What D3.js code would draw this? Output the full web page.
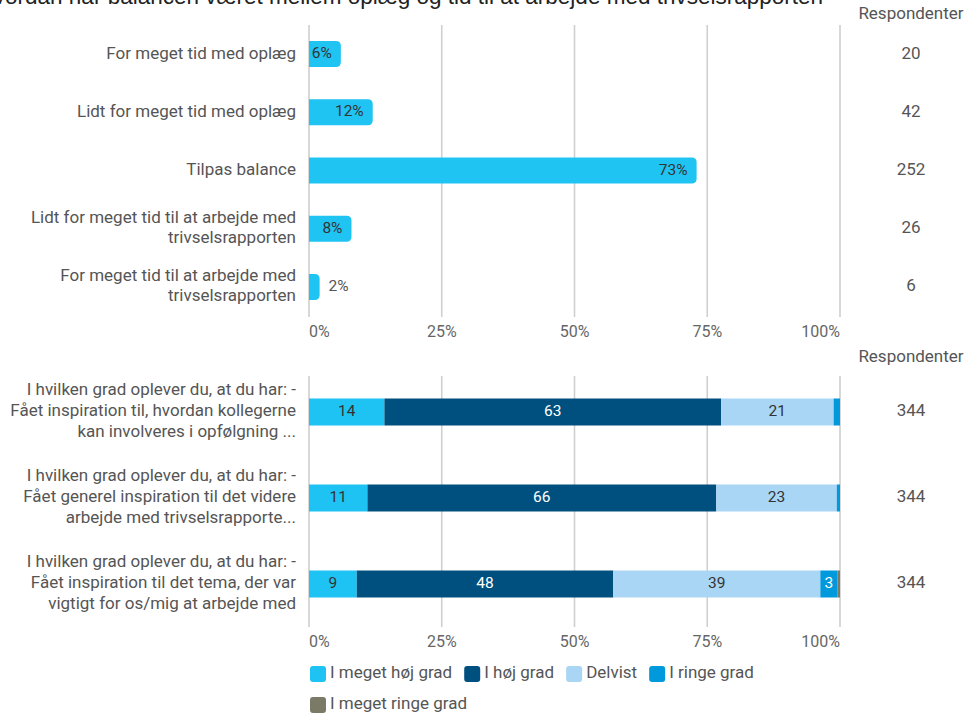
<!DOCTYPE html>
<html><head><meta charset="utf-8">
<script src="https://cdn.jsdelivr.net/npm/d3@7"></script>
<style>body{margin:0;background:#fff;}svg{display:block;font-family:Roboto,"Noto Sans",sans-serif;}</style>
</head><body>
<script>
const title = "Hvordan har balancen været mellem oplæg og tid til at arbejde med trivselsrapporten";
const topCategories = [
  ["For meget tid med oplæg"],
  ["Lidt for meget tid med oplæg"],
  ["Tilpas balance"],
  ["Lidt for meget tid til at arbejde med", "trivselsrapporten"],
  ["For meget tid til at arbejde med", "trivselsrapporten"]
];
const topPercent = [6, 12, 73, 8, 2];
const topRespondents = [20, 42, 252, 26, 6];

const bottomCategories = [
  ["I hvilken grad oplever du, at du har:  -", "Fået inspiration til, hvordan kollegerne", "kan involveres i opfølgning ..."],
  ["I hvilken grad oplever du, at du har:  -", "Fået generel inspiration til det videre", "arbejde med trivselsrapporte..."],
  ["I hvilken grad oplever du, at du har:  -", "Fået inspiration til det tema, der var", "vigtigt for os/mig at arbejde med"]
];
const seriesNames = ["I meget høj grad", "I høj grad", "Delvist", "I ringe grad", "I meget ringe grad"];
const seriesColors = ["#1fc3f3", "#00507f", "#a9d6f5", "#0099dc", "#7b7a66"];
const seriesLabelColors = ["#333", "#fff", "#333", "#fff", "#fff"];
const sMegetHoj = [14.2, 11.0, 9.0];
const sHoj = [63.4, 65.7, 48.3];
const sDelvist = [21.2, 22.7, 39.0];
const sRinge = [1.2, 0.6, 3.2];
const sMegetRinge = [0, 0, 0.5];
const bottomRespondents = [344, 344, 344];
const tickValues = [0, 25, 50, 75, 100];
const tickLabels = ["0%", "25%", "50%", "75%", "100%"];
const headerLabel = "Respondenter";

const W = 965, H = 715;
const svg = d3.select("body").append("svg").attr("width", W).attr("height", H);

const x = d3.scaleLinear().domain([0, 100]).range([309, 840]);
const labelFont = 17, valueFont = 15.5, tickFont = 16;

// Title (clipped at top)
svg.append("text").attr("x", 823).attr("y", 4).attr("text-anchor", "end")
  .style("font-family", "'Liberation Sans', Arial, sans-serif").style("font-size", "22.5px")
  .attr("fill", "#222").text(title);

function gridAndAxis(y0, y1, labelY) {
  const g = svg.append("g");
  g.selectAll("line").data(tickValues).join("line")
    .attr("x1", d => x(d)).attr("x2", d => x(d))
    .attr("y1", y0).attr("y2", y1)
    .attr("stroke", "#cfcfcf").attr("stroke-width", 1.6);
  g.selectAll("text").data(tickValues).join("text")
    .attr("x", d => x(d)).attr("y", labelY)
    .attr("text-anchor", (d, i) => i === 0 ? "start" : (i === tickValues.length - 1 ? "end" : "middle"))
    .attr("dominant-baseline", "middle")
    .attr("fill", "#666").style("font-size", tickFont + "px")
    .text((d, i) => tickLabels[i]);
}

function catLabels(cats, yScale, lineH) {
  cats.forEach((lines, i) => {
    const cy = yScale(i);
    const t = svg.append("text").attr("text-anchor", "end").attr("fill", "#555").style("font-size", labelFont + "px");
    lines.forEach((ln, j) => {
      t.append("tspan").attr("x", 296)
        .attr("y", cy + (j - (lines.length - 1) / 2) * lineH)
        .attr("dominant-baseline", "middle").text(ln);
    });
  });
}

// ---------- Top chart ----------
const yTop = d3.scalePoint().domain(d3.range(topPercent.length)).range([25, 316]).padding(0.5);
gridAndAxis(25, 317, 333);
svg.append("text").attr("x", 911).attr("y", 15).attr("text-anchor", "middle").attr("dominant-baseline", "middle")
  .attr("fill", "#555").style("font-size", labelFont + "px").text(headerLabel);

const barH = 26, r = 5;
topPercent.forEach((v, i) => {
  const x0 = x(0), x1 = x(v), yc = yTop(i), y0 = yc - barH / 2, y1 = yc + barH / 2;
  const rr = Math.min(r, (x1 - x0));
  const p = `M${x0},${y0} H${x1 - rr} Q${x1},${y0} ${x1},${y0 + rr} V${y1 - rr} Q${x1},${y1} ${x1 - rr},${y1} H${x0} Z`;
  svg.append("path").attr("d", p).attr("fill", "#20c4f3");
  const inside = (x1 - x0) > 25;
  svg.append("text")
    .attr("x", inside ? x1 - 9 : x1 + 9).attr("y", yc)
    .attr("text-anchor", inside ? "end" : "start").attr("dominant-baseline", "middle")
    .attr("fill", inside ? "#333" : "#555").style("font-size", valueFont + "px").text(v + "%");
  svg.append("text").attr("x", 911).attr("y", yc).attr("text-anchor", "middle").attr("dominant-baseline", "middle")
    .attr("fill", "#555").style("font-size", labelFont + "px").text(topRespondents[i]);
});
catLabels(topCategories, yTop, 20);

// ---------- Bottom chart ----------
const yBot = d3.scalePoint().domain(d3.range(bottomCategories.length)).range([369, 627]).padding(0.5);
gridAndAxis(376, 627, 643);
svg.append("text").attr("x", 911).attr("y", 358).attr("text-anchor", "middle").attr("dominant-baseline", "middle")
  .attr("fill", "#555").style("font-size", labelFont + "px").text(headerLabel);

const seriesData = [sMegetHoj, sHoj, sDelvist, sRinge, sMegetRinge];
const rows = bottomCategories.map((c, i) => {
  const o = { i };
  seriesNames.forEach((n, k) => o[n] = seriesData[k][i]);
  return o;
});
const stacked = d3.stack().keys(seriesNames)(rows);
const bh = 27;
stacked.forEach((layer, k) => {
  layer.forEach((seg, i) => {
    const w = x(seg[1]) - x(seg[0]);
    if (w <= 0) return;
    svg.append("rect").attr("x", x(seg[0])).attr("y", yBot(i) - bh / 2)
      .attr("width", w).attr("height", bh).attr("fill", seriesColors[k]);
    const val = Math.round(seg[1] - seg[0]);
    if (w > 12 && val > 0) {
      svg.append("text").attr("x", (x(seg[0]) + x(seg[1])) / 2).attr("y", yBot(i))
        .attr("text-anchor", "middle").attr("dominant-baseline", "middle")
        .attr("fill", seriesLabelColors[k]).style("font-size", valueFont + "px").text(val);
    }
  });
});
bottomRespondents.forEach((v, i) => {
  svg.append("text").attr("x", 911).attr("y", yBot(i)).attr("text-anchor", "middle").attr("dominant-baseline", "middle")
    .attr("fill", "#555").style("font-size", labelFont + "px").text(v);
});
catLabels(bottomCategories, yBot, 21);

// ---------- Legend ----------
let lx = 310, ly = 674;
const maxX = 850;
seriesNames.forEach((n, k) => {
  const g = svg.append("g");
  const t = g.append("text").attr("y", ly).attr("dominant-baseline", "middle")
    .attr("fill", "#555").style("font-size", "17px").text(n);
  const tw = t.node().getComputedTextLength();
  if (lx + 20 + tw > maxX - 80) { lx = 310; ly += 31; t.attr("y", ly); }
  g.append("rect").attr("x", lx).attr("y", ly - 8).attr("width", 16).attr("height", 16)
    .attr("rx", 3).attr("fill", seriesColors[k]);
  t.attr("x", lx + 20);
  lx += 20 + tw + 12;
});
</script>
</body></html>
